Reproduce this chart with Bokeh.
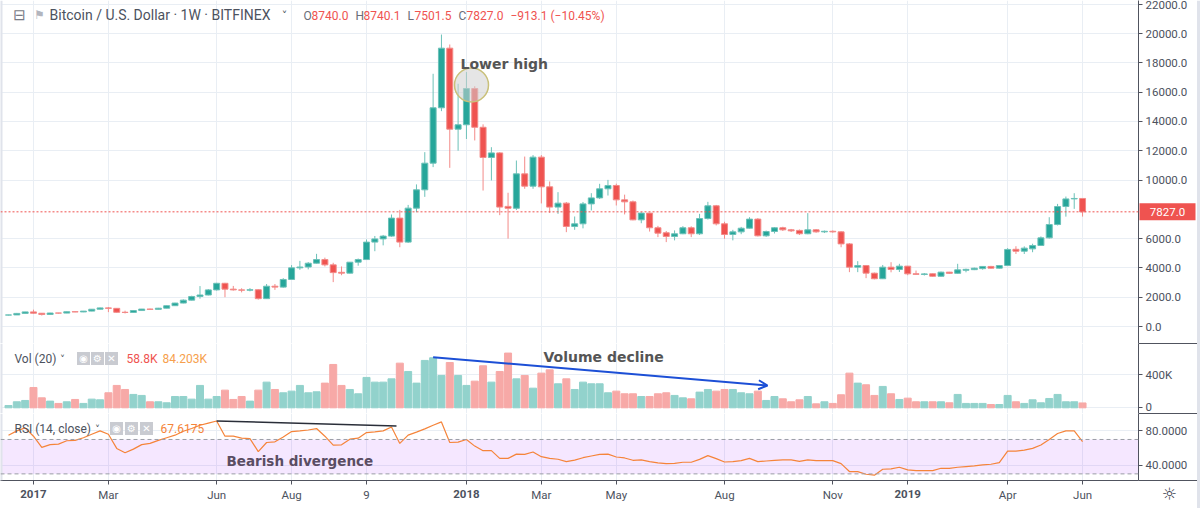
from bokeh.plotting import figure
from bokeh.layouts import column
from bokeh.models import (Range1d, FixedTicker, Span, Label, Arrow, OpenHead,
                          BoxAnnotation, ColumnDataSource)
from bokeh.embed import file_html
from bokeh.resources import INLINE

# ---------------- data (weekly BTC/USD, Bitfinex, from 2016-12-12) ----------------
opens = [778, 790, 895, 998, 905, 820, 920, 915, 1010, 995,
         1050, 1180, 1270, 1240, 970, 960, 1090, 1190, 1170, 1250,
         1420, 1600, 1800, 2050, 2150, 2500, 2950, 2550, 2500, 2480,
         2510, 1900, 2750, 2690, 3210, 4005, 4060, 4320, 4570, 4210,
         3700, 3640, 4390, 4570, 5760, 5980, 6170, 7400, 5760, 8080,
         9330, 11150, 14930, 19000, 13470, 13770, 16245, 13600, 11540, 11850,
         8200, 8070, 10420, 9580, 11560, 9535, 8150, 8420, 6830, 7010,
         8370, 8780, 9400, 9625, 8645, 8510, 7280, 7740, 6740, 6400,
         6145, 6330, 6740, 6330, 7370, 8240, 7010, 6280, 6460, 6710,
         7330, 6190, 6485, 6740, 6600, 6560, 6330, 6600, 6460, 6500,
         6460, 5640, 4050, 4160, 3640, 3260, 4050, 3890, 4120, 3600,
         3550, 3600, 3430, 3710, 3630, 3840, 3880, 3950, 4100, 3980,
         4160, 5270, 5140, 5300, 5530, 6050, 6960, 8190, 8710, 8740]
highs = [800, 925, 1000, 1150, 915, 935, 930, 1015, 1030, 1060,
         1190, 1290, 1330, 1260, 1080, 1100, 1200, 1220, 1270, 1430,
         1620, 1850, 2100, 2760, 2560, 2980, 2980, 2770, 2610, 2620,
         2540, 2900, 2900, 3300, 4190, 4480, 4400, 4960, 4700, 4350,
         4100, 4400, 4640, 5940, 6180, 6250, 7645, 7960, 8300, 9700,
         11900, 17250, 19930, 19250, 16570, 17370, 16400, 13800, 12240, 11900,
         9130, 11330, 11600, 11700, 11700, 9900, 9170, 8500, 7510, 8500,
         9100, 9740, 10010, 9750, 9000, 8600, 7800, 7760, 6870, 6520,
         6560, 6850, 6840, 7690, 8510, 8300, 7150, 6600, 6800, 7460,
         7400, 6550, 6780, 6810, 6660, 6620, 7740, 6650, 6550, 6560,
         6500, 5700, 4460, 4200, 3680, 4200, 4390, 4280, 4140, 3820,
         3650, 3620, 3750, 3730, 4280, 3950, 4020, 4120, 4140, 4200,
         5350, 5480, 5470, 5650, 6150, 7460, 8370, 8870, 9100, 8740.1]
lows = [755, 785, 880, 880, 750, 800, 880, 910, 980, 980,
        1040, 1170, 980, 940, 890, 940, 1060, 1150, 1160, 1240,
        1400, 1580, 1780, 1900, 2120, 2450, 2000, 2450, 2330, 2400,
        1840, 1880, 2500, 2650, 3180, 3870, 3900, 4300, 4100, 3030,
        3500, 3620, 4150, 4550, 5140, 5540, 6120, 5410, 5700, 7800,
        8850, 10880, 14700, 10830, 12000, 12800, 12700, 9280, 9970, 7600,
        6000, 7950, 9400, 9400, 8400, 7750, 7690, 6440, 6600, 6700,
        7920, 8700, 8940, 8260, 7650, 7250, 7050, 6480, 6100, 5760,
        5880, 6300, 6100, 6250, 7300, 6900, 5990, 5880, 6300, 6690,
        6150, 6120, 6350, 6520, 6450, 6250, 6300, 6400, 6380, 6400,
        5410, 3710, 3710, 3300, 3220, 3240, 3700, 3720, 3500, 3550,
        3480, 3400, 3400, 3600, 3600, 3700, 3850, 3880, 3950, 3950,
        4150, 4950, 4950, 5070, 5500, 6000, 6900, 7500, 8030, 7501.5]
closes = [790, 895, 998, 905, 820, 920, 915, 1010, 995, 1050,
          1180, 1270, 1240, 970, 960, 1090, 1190, 1170, 1250, 1420,
          1600, 1800, 2050, 2150, 2500, 2950, 2550, 2500, 2480, 2510,
          1900, 2750, 2690, 3210, 4005, 4060, 4320, 4570, 4210, 3680,
          3640, 4390, 4570, 5760, 5980, 6170, 7400, 5760, 8080, 9330,
          11150, 14930, 19000, 13470, 13770, 16245, 13600, 11540, 11850, 8150,
          8070, 10420, 9580, 11560, 9535, 8150, 8420, 6830, 7010, 8370,
          8780, 9400, 9625, 8645, 8510, 7280, 7740, 6740, 6370, 6145,
          6330, 6740, 6330, 7370, 8240, 7010, 6280, 6460, 6710, 7330,
          6190, 6485, 6740, 6600, 6530, 6330, 6600, 6460, 6500, 6460,
          5640, 4050, 4160, 3640, 3260, 4050, 3890, 4120, 3595, 3560,
          3590, 3430, 3710, 3630, 3870, 3900, 3980, 4100, 3980, 4160,
          5260, 5140, 5350, 5530, 6050, 6960, 8190, 8710, 8740.1, 7827]
volume_k = [28, 73, 89, 246, 121, 81, 53, 73, 101, 53,
            105, 97, 182, 271, 222, 162, 150, 73, 73, 61,
            137, 137, 105, 271, 105, 137, 214, 101, 137, 81,
            214, 311, 222, 182, 202, 271, 182, 194, 299, 525,
            271, 222, 170, 368, 311, 311, 351, 541, 440, 299,
            574, 606, 392, 549, 392, 271, 323, 509, 311, 440,
            663, 351, 392, 238, 420, 460, 291, 351, 222, 311,
            291, 291, 182, 202, 170, 170, 137, 137, 170, 182,
            150, 121, 109, 190, 222, 202, 222, 222, 182, 170,
            202, 89, 137, 109, 73, 97, 137, 48, 73, 53,
            158, 420, 299, 279, 150, 259, 170, 101, 117, 73,
            73, 73, 73, 61, 162, 53, 53, 53, 40, 40,
            150, 73, 53, 97, 61, 113, 162, 73, 73, 58.8]
rsi = [75, 80, 83.5, 73.8, 60.8, 64, 64.6, 68.5, 69, 72,
       76, 80, 76, 59.6, 54.6, 58.8, 64, 65.4, 69, 72,
       75, 79.6, 82.7, 86.5, 89, 91.5, 73.8, 73.8, 71.5, 71,
       55.8, 66.5, 67.3, 73, 79.2, 80, 81, 82.7, 73.8, 63.5,
       63.8, 70.4, 71.5, 78, 78.8, 80, 84.6, 65.4, 75, 78.5,
       82.3, 86.5, 90.4, 66.5, 66.9, 70, 62.3, 57, 57, 48,
       48, 53, 52.7, 55.4, 50, 48, 47, 44.2, 46, 48.8,
       50.8, 52.7, 53, 49.6, 48.5, 45.8, 46.2, 44.2, 42.7, 41.9,
       42.3, 43.5, 43.5, 46.9, 51.2, 47.7, 43.8, 44.2, 45.4, 48,
       44.2, 45, 45.8, 46.2, 46.2, 44.6, 46.2, 45.4, 45.4, 45.4,
       41.9, 32.7, 32.7, 29.6, 28.5, 35.4, 35.8, 37.7, 34.6, 33.8,
       33.8, 33.8, 36.5, 36.5, 37.7, 38.5, 39.2, 40.4, 41.2, 43.1,
       56.5, 56.5, 57.7, 59.6, 63.5, 70, 76.9, 80, 80, 67.6]
tick_idx = [3, 12, 25, 34, 43, 55, 64, 73, 86, 99, 108, 120, 129]
tick_labels = ["2017", "Mar", "Jun", "Aug", "9", "2018", "Mar", "May", "Aug", "Nov", "2019", "Apr", "Jun"]
year_labels = {"2017", "2018", "2019"}
price_ticks = [0, 2000, 4000, 6000, 10000, 12000, 14000, 16000, 18000, 20000, 22000]
vol_ticks = [0, 400000]
rsi_ticks = [40, 80]

# ---------------- geometry ----------------
W, H, AXW = 1200, 508, 62
WF = W - AXW
XS, XE = -0.96, 135.72
MAIN_Y0, MAIN_Y1, MAIN_H = -1160, 22253, 343
VOL_Y0, VOL_Y1, VOL_H, VOL_TOP = -69000, 779000, 70, 343
RSI_Y0, RSI_Y1, RSI_H, RSI_TOP = 22.3, 100.2, 67, 413
BOTTOM = 28

def px2x(px):
    return XS + px * (XE - XS) / WF

def x2px(x):
    return (x - XS) / (XE - XS) * WF

def py_main(py):
    return MAIN_Y1 - py * (MAIN_Y1 - MAIN_Y0) / MAIN_H

def main2py(v):
    return (MAIN_Y1 - v) / (MAIN_Y1 - MAIN_Y0) * MAIN_H

def py_vol(py):
    return VOL_Y1 - (py - VOL_TOP) * (VOL_Y1 - VOL_Y0) / VOL_H

def py_rsi(py):
    return RSI_Y1 - (py - RSI_TOP) * (RSI_Y1 - RSI_Y0) / RSI_H

UP, DN = "#26a69a", "#ef5350"
UP_L, DN_L = "#6cc1b8", "#f38a88"
UP_V, DN_V = "#92d2cc", "#f7a9a7"
GRID = "#e9eef4"
AXC = "#50535e"
TXT = "#4c525e"
FONT = "Roboto"

xr = Range1d(XS, XE)

def make_fig(h, yr, ticks, overrides, bottom=0):
    p = figure(width=W, height=h, x_range=xr, y_range=yr, output_backend="svg",
               toolbar_location=None, y_axis_location="right",
               x_axis_location="below" if bottom else None,
               min_border_left=0, min_border_right=AXW, min_border_top=0,
               min_border_bottom=bottom)
    p.outline_line_color = None
    p.background_fill_color = "white"
    p.border_fill_color = "white"
    p.grid.grid_line_color = GRID
    p.xgrid.ticker = FixedTicker(ticks=tick_idx)
    ax = p.yaxis[0]
    ax.ticker = FixedTicker(ticks=ticks)
    ax.major_label_overrides = overrides
    ax.axis_line_color = AXC
    ax.major_tick_line_color = AXC
    ax.major_tick_out = 4
    ax.major_tick_in = 0
    ax.minor_tick_line_color = None
    ax.major_label_text_font = FONT
    ax.major_label_text_font_size = "11.5px"
    ax.major_label_text_color = TXT
    ax.major_label_standoff = 3
    p.add_layout(Span(location=XS, dimension="height", line_color="#e0e3eb", line_width=4))
    return p

def lab(p, text, px, y, size="12px", color=TXT, font=FONT, bold=False, align="left", **kw):
    p.add_layout(Label(x=px2x(px), y=y, text=text, text_font=font, text_font_size=size,
                       text_color=color, text_font_style="bold" if bold else "normal",
                       text_align=align, text_baseline="middle", **kw))

idx = list(range(len(closes)))
up = [c >= o for o, c in zip(opens, closes)]

# ---------------- main price pane ----------------
pm = make_fig(MAIN_H, Range1d(MAIN_Y0, MAIN_Y1), price_ticks,
              {t: f"{t:.1f}" for t in price_ticks})
src = ColumnDataSource(dict(
    x=idx, o=opens, h=highs, l=lows, c=closes,
    top=[max(o, c) for o, c in zip(opens, closes)],
    bot=[min(o, c) for o, c in zip(opens, closes)],
    fill=[UP if u else DN for u in up],
    line=[UP_L if u else DN_L for u in up]))
pm.segment(x0="x", y0="l", x1="x", y1="h", line_color="line", line_width=1, source=src)
pm.vbar(x="x", width=0.72, top="top", bottom="bot", fill_color="fill",
        line_color="line", line_width=1, source=src)
pm.add_layout(Span(location=closes[-1], dimension="width", line_color=DN,
                   line_dash="2 2", line_width=1))
pm.add_layout(Span(location=MAIN_Y0, dimension="width", line_color=AXC, line_width=1))

# "Lower high" marker
pm.scatter(x=[px2x(471)], y=[py_main(84.5)], marker="circle", size=34,
           fill_color="#cfcfcf", fill_alpha=0.55, line_color="#c9c07a", line_width=1.5)
lab(pm, "Lower high", 460, py_main(63), size="14px", color="#555555",
    font="DejaVu Sans", bold=True)

# header
lab(pm, "\u229f", 19, py_main(14), size="15px", color="#787b86", font="DejaVu Sans", align="center")
lab(pm, "\u2691", 39, py_main(14), size="12px", color="#b2b5be", font="DejaVu Sans", align="center")
lab(pm, "Bitcoin / U.S. Dollar \u00b7 1W \u00b7 BITFINEX", 49, py_main(14), size="14px", color=TXT)
lab(pm, "\u02c5", 284, py_main(15), size="11px", color=TXT, font="DejaVu Sans", align="center")
o_, h_, l_, c_ = opens[-1], highs[-1], lows[-1], closes[-1]
chg = c_ - closes[-2]
for letter, val, lx, vx in [("O", o_, 303, 311), ("H", h_, 355, 363),
                            ("L", l_, 407, 414), ("C", c_, 458, 466)]:
    lab(pm, letter, lx, py_main(15), size="12px", color="#6a6d78")
    lab(pm, f"{val:.1f}", vx, py_main(15), size="12px", color=DN)
lab(pm, f"\u2212{abs(chg):.1f} (\u2212{abs(chg) / closes[-2] * 100:.2f}%)", 510, py_main(15),
    size="12px", color=DN)

# ---------------- volume pane ----------------
pv = make_fig(VOL_H, Range1d(VOL_Y0, VOL_Y1), vol_ticks, {0: "0", 400000: "400K"})
vsrc = ColumnDataSource(dict(x=idx, v=[k * 1000 for k in volume_k],
                             fill=[UP_V if u else DN_V for u in up]))
pv.vbar(x="x", width=0.84, top="v", bottom=0, fill_color="fill", line_color="fill", source=vsrc)
pv.add_layout(Span(location=VOL_Y0, dimension="width", line_color=AXC, line_width=1))
pv.add_layout(Arrow(end=OpenHead(size=9, line_color="#1c4fd6", line_width=2),
                    x_start=51, y_start=volume_k[51] * 1000 + 7000,
                    x_end=px2x(767), y_end=py_vol(385),
                    line_color="#1c4fd6", line_width=2))
lab(pv, "Volume decline", 543, py_vol(356), size="14px", color="#555555",
    font="DejaVu Sans", bold=True)
lab(pv, "Vol (20)", 14, py_vol(358), size="12px", color=TXT)
lab(pv, "\u02c5", 62, py_vol(359), size="10px", color=TXT, font="DejaVu Sans", align="center")
icon_px = [83, 97, 111]
pv.scatter(x=[px2x(v) for v in icon_px], y=[py_vol(358)] * 3, marker="square", size=13,
           fill_color="#c9cbd1", line_color=None)
for ch, ipx in zip(["\u25c9", "\u2699", "\u2715"], icon_px):
    lab(pv, ch, ipx, py_vol(358), size="10px", color="white", font="DejaVu Sans", align="center")
lab(pv, f"{volume_k[-1]:.1f}K", 126, py_vol(358), size="12px", color=DN)
lab(pv, "84.203K", 162, py_vol(358), size="12px", color="#f6a04d")

# ---------------- RSI pane ----------------
pr = make_fig(RSI_H + BOTTOM, Range1d(RSI_Y0, RSI_Y1), rsi_ticks,
              {40: "40.0000", 80: "80.0000"}, bottom=BOTTOM)
pr.add_layout(BoxAnnotation(bottom=30, top=70, fill_color="#9915ff", fill_alpha=0.1,
                            line_color=None, level="underlay"))
for lv in (30, 70):
    pr.add_layout(Span(location=lv, dimension="width", line_color="#9b9ea6",
                       line_dash="4 3", line_width=1))
pr.line(idx, rsi, line_color="#f5843a", line_width=1.2)
pk_a, pk_b = 25, 46
pr.add_layout(Arrow(end=None, x_start=pk_a, y_start=rsi[pk_a],
                    x_end=pk_b + 0.6, y_end=rsi[pk_b] + 1.2,
                    line_color="#2a2e39", line_width=1.5))
lab(pr, "Bearish divergence", 226, py_rsi(460), size="13.5px", color="#5a4d63",
    font="DejaVu Sans", bold=True)
lab(pr, "RSI (14, close)", 14, py_rsi(428), size="12px", color=TXT)
lab(pr, "\u02c5", 97, py_rsi(429), size="10px", color=TXT, font="DejaVu Sans", align="center")
icon_px2 = [116, 131, 146]
pr.scatter(x=[px2x(v) for v in icon_px2], y=[py_rsi(428)] * 3, marker="square", size=13,
           fill_color="#c9cbd1", line_color=None)
for ch, ipx in zip(["\u25c9", "\u2699", "\u2715"], icon_px2):
    lab(pr, ch, ipx, py_rsi(428), size="10px", color="white", font="DejaVu Sans", align="center")
lab(pr, "67.6175", 160, py_rsi(428), size="12px", color="#f5843a")

xa = pr.xaxis[0]
xa.ticker = FixedTicker(ticks=tick_idx)
xa.major_label_overrides = {t: ("" if s in year_labels else s) for t, s in zip(tick_idx, tick_labels)}
xa.axis_line_color = AXC
xa.major_tick_line_color = AXC
xa.major_tick_out = 4
xa.major_tick_in = 0
xa.minor_tick_line_color = None
xa.major_label_text_font = FONT
xa.major_label_text_font_size = "11.5px"
xa.major_label_text_color = TXT
xa.major_label_standoff = 3

# ---------------- transparent overlay (pixel coordinates) for items outside the frames ----------------
ov = figure(width=W, height=H, x_range=Range1d(0, W), y_range=Range1d(H, 0),
            output_backend="svg", toolbar_location=None, x_axis_location=None,
            y_axis_location=None, min_border=0)
ov.outline_line_color = None
ov.background_fill_alpha = 0
ov.border_fill_alpha = 0
ov.grid.visible = False
ov.frame_align = False
ov.styles = {"position": "absolute", "left": "0px", "top": "0px", "z-index": "5",
             "pointer-events": "none"}
# separators through the axis column and right border
for sep_y in (MAIN_H, RSI_TOP, RSI_TOP + RSI_H):
    ov.segment(x0=[WF], y0=[sep_y], x1=[W - 3], y1=[sep_y], line_color=AXC, line_width=1)
ov.segment(x0=[W - 2], y0=[0], x1=[W - 2], y1=[H], line_color="#e0e3eb", line_width=3)
# last price tag
ty = main2py(closes[-1])
ov.quad(left=[WF + 1], right=[W - 5], top=[ty - 8.5], bottom=[ty + 8.5],
        fill_color=DN, line_color=None)
ov.add_layout(Label(x=(WF + W - 4) / 2, y=ty, text=f"{closes[-1]:.1f}", text_font=FONT,
                    text_font_size="11.5px", text_color="white", text_align="center",
                    text_baseline="middle"))
# bold year labels on the time axis
for t, s in zip(tick_idx, tick_labels):
    if s in year_labels:
        ov.add_layout(Label(x=x2px(t), y=RSI_TOP + RSI_H + 13, text=s, text_font=FONT,
                            text_font_size="11.5px", text_font_style="bold", text_color=TXT,
                            text_align="center", text_baseline="middle"))
ov.add_layout(Label(x=(WF + W) / 2, y=RSI_TOP + RSI_H + 13, text="\u263c",
                    text_font="DejaVu Sans", text_font_size="17px", text_color="#3d4150",
                    text_align="center", text_baseline="middle"))

layout = column(pm, pv, pr, ov, spacing=0)
open("out.html", "w").write(file_html(layout, INLINE))
